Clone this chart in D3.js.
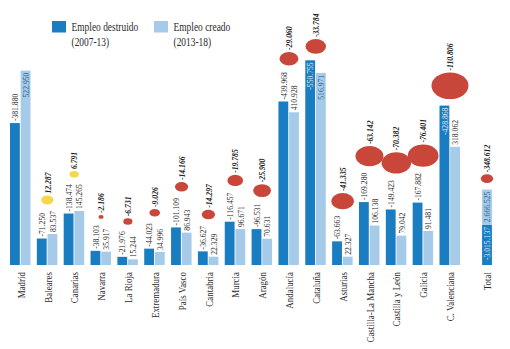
<!DOCTYPE html>
<html>
<head>
<meta charset="utf-8">
<script src="https://cdn.jsdelivr.net/npm/d3@7"></script>
<style>
  html, body { margin: 0; padding: 0; background: #fff; }
  svg { display: block; font-family: "Liberation Serif", serif; }
</style>
</head>
<body>
<svg id="chart" width="510" height="349"></svg>
<script>
// Regional employment: jobs destroyed 2007-13, jobs created 2013-18, net balance
const regions = ["Madrid", "Baleares", "Canarias", "Navarra", "La Rioja", "Extremadura",
  "País Vasco", "Cantabria", "Murcia", "Aragón", "Andalucía", "Cataluña", "Asturias",
  "Castilla-La Mancha", "Castilla y León", "Galicia", "C. Valenciana"];
const destroyed = [-381880, -71250, -138474, -38103, -21976, -44023, -101109, -36627,
  -116457, -96531, -439968, -550755, -63663, -169280, -149423, -167882, -428868];
const created = [522950, 83537, 145265, 35917, 15244, 34996, 86943, 22329,
  96671, 70631, 410928, 516971, 22327, 106138, 79042, 91481, 318062];
const balance = [null, 12287, 6791, -2186, -6731, -9026, -14166, -14297,
  -19785, -25900, -29060, -33784, -41335, -63142, -70382, -76401, -110806];

const totalLabel = "Total";
const totalDestroyed = -3015137;
const totalCreated = 2666525;
const totalBalance = -348612;

const seriesNames = ["Empleo destruido", "Empleo creado"];
const seriesPeriods = ["(2007-13)", "(2013-18)"];

// labels drawn inside the top of their bar
const insideLabels = new Set(["Madrid|created", "Cataluña|destroyed", "Cataluña|created",
  "C. Valenciana|destroyed", "Total|destroyed", "Total|created"]);

const C_DARK = "#1b7dc1", C_LIGHT = "#a6cbe9", C_RED = "#c8473a", C_YELLOW = "#f3d84a";
const TXT = "#2b2b2b";
const SQ = 0.85; // condensed type

const fmt = d3.formatLocale({decimal: ",", thousands: ".", grouping: [3], currency: ["", ""], minus: "-"}).format(",d");

const svg = d3.select("#chart");

const cats = regions.concat([totalLabel]);
const idx = d3.scaleLinear().domain([0, regions.length - 1]).range([20.5, 450]);
const x = d3.scaleOrdinal().domain(cats)
  .range(cats.map((c, i) => i < regions.length ? idx(i) : idx(regions.length - 1) + 37));
const sub = d3.scaleBand().domain(["destroyed", "created"]).range([-10.5, 10]).paddingInner(0.08);

const base = 265;
const y = d3.scaleLinear().domain([0, 713000]).range([base, 0]);
// the national total is drawn on a compressed scale
const yTotal = d3.scaleLinear().domain([0, 713000 * 28]).range([base, 0]);
const r = d3.scaleSqrt().domain([0, 110806]).range([0, 18.5]);

// bar records
const bars = [];
regions.forEach((reg, i) => {
  bars.push({cat: reg, key: "destroyed", v: destroyed[i], x0: x(reg) + sub("destroyed"),
    y0: y(Math.abs(destroyed[i])), y1: base, color: C_DARK});
  bars.push({cat: reg, key: "created", v: created[i], x0: x(reg) + sub("created"),
    y0: y(created[i]), y1: base, color: C_LIGHT});
});
// total: stacked column
const tx = x(totalLabel) - sub.bandwidth() / 2;
const tDarkTop = yTotal(Math.abs(totalDestroyed));
const tLightTop = tDarkTop - (base - yTotal(totalCreated));
bars.push({cat: totalLabel, key: "destroyed", v: totalDestroyed, x0: tx, y0: tDarkTop, y1: base, color: C_DARK});
bars.push({cat: totalLabel, key: "created", v: totalCreated, x0: tx, y0: tLightTop, y1: tDarkTop, color: C_LIGHT});

const gBars = svg.append("g");
gBars.selectAll("rect").data(bars).join("rect")
  .attr("x", d => d.x0).attr("y", d => d.y0)
  .attr("width", sub.bandwidth()).attr("height", d => d.y1 - d.y0)
  .attr("fill", d => d.color);

// value labels on bars
const gLab = svg.append("g").attr("font-size", 9);
const labs = gLab.selectAll("text").data(bars).join("text")
  .attr("transform", d => {
    const inside = insideLabels.has(d.cat + "|" + d.key);
    const cx = d.x0 + sub.bandwidth() / 2;
    return `translate(${cx},${inside ? d.y0 + 2 : d.y0 - 2}) rotate(-90) scale(${SQ},1)`;
  })
  .attr("text-anchor", d => insideLabels.has(d.cat + "|" + d.key) ? "end" : "start")
  .attr("dy", "0.35em")
  .attr("fill", d => {
    if (!insideLabels.has(d.cat + "|" + d.key)) return TXT;
    return d.key === "destroyed" ? "#dcefff" : "#2d5d8a";
  })
  .text(d => fmt(d.v));

// highest point reached by bars and outside labels in each column
const topExtent = {};
labs.each(function(d) {
  const inside = insideLabels.has(d.cat + "|" + d.key);
  const len = this.getComputedTextLength() * SQ;
  const t = inside ? d.y0 : d.y0 - 2 - len;
  topExtent[d.cat] = Math.min(topExtent[d.cat] ?? Infinity, t);
});

// net balance bubbles
const bubbles = [];
regions.forEach((reg, i) => {
  if (balance[i] == null) return;
  bubbles.push({cat: reg, v: balance[i], rx: r(Math.abs(balance[i]))});
});
bubbles.push({cat: totalLabel, v: totalBalance, rx: r(Math.abs(totalBalance) / 28)});
bubbles.forEach(b => {
  b.ry = b.rx * 0.72;
  b.cx = x(b.cat);
  b.cy = topExtent[b.cat] - 6.5 - b.ry;
});

const gBub = svg.append("g");
gBub.selectAll("ellipse").data(bubbles).join("ellipse")
  .attr("cx", d => d.cx).attr("cy", d => d.cy)
  .attr("rx", d => d.rx).attr("ry", d => d.ry)
  .attr("fill", d => d.v >= 0 ? C_YELLOW : C_RED);

gBub.selectAll("text").data(bubbles).join("text")
  .attr("transform", d => `translate(${d.cx},${d.cy - d.ry - 2}) rotate(-90) scale(${SQ},1)`)
  .attr("dy", "0.35em")
  .attr("font-size", 9)
  .attr("font-weight", "bold")
  .attr("font-style", "italic")
  .attr("fill", "#1e1e1e")
  .text(d => fmt(d.v));

// category axis
const axis = svg.append("g")
  .attr("transform", `translate(0,272)`)
  .call(d3.axisBottom(x).tickSize(0).tickPadding(0));
axis.select(".domain").remove();
axis.selectAll("text")
  .attr("x", 0).attr("y", 0).attr("dy", "0.35em")
  .attr("transform", `rotate(-90) scale(${SQ},1)`)
  .attr("text-anchor", "end")
  .attr("font-family", "Liberation Serif")
  .attr("font-size", 10.5)
  .attr("fill", TXT);

// legend
const legend = svg.append("g");
[C_DARK, C_LIGHT].forEach((c, i) => {
  const lx = 52 + i * 102;
  const g = legend.append("g");
  g.append("rect").attr("x", lx).attr("y", 21).attr("width", 14).attr("height", 11.5).attr("fill", c);
  g.append("text").attr("transform", `translate(${lx + 19.5},30.5) scale(0.82,1)`)
    .attr("font-size", 11.5).attr("fill", TXT).text(seriesNames[i]);
  g.append("text").attr("transform", `translate(${lx + 19.5},45.5) scale(0.82,1)`)
    .attr("font-size", 11.5).attr("fill", TXT).text(seriesPeriods[i]);
});
</script>
</body>
</html>
